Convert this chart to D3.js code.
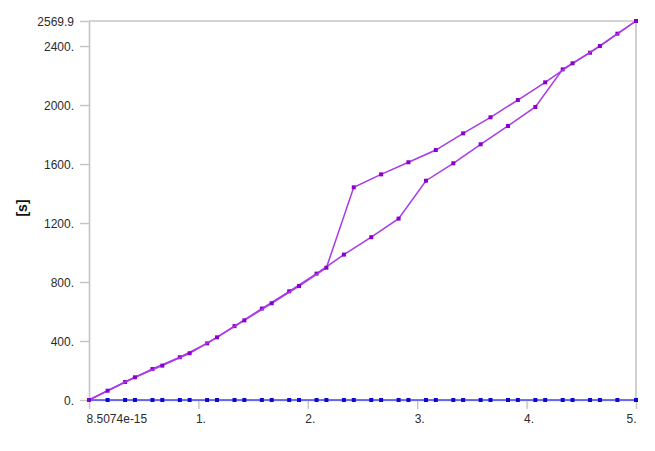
<!DOCTYPE html>
<html>
<head>
<meta charset="utf-8">
<script src="https://cdn.jsdelivr.net/npm/d3@7"></script>
<style>
  html, body { margin: 0; padding: 0; background: #fff; }
  svg { display: block; font-family: "Liberation Sans", Arial, sans-serif; }
</style>
</head>
<body>
<svg id="chart" width="655" height="451"></svg>
<script>
// ---- data ----
const seriesAX = [0, 0.17, 0.42, 0.67, 0.92, 1.17, 1.42, 1.67, 1.92, 2.17, 2.42, 2.67, 2.92, 3.17, 3.42, 3.67, 3.92, 4.17, 4.42, 4.67, 5.0];
const seriesAY = [0, 63, 154, 233, 317, 425, 540, 656, 773, 897, 1442, 1530, 1612, 1695, 1808, 1917, 2034, 2154, 2283, 2400, 2569.9];
const seriesBX = [0, 0.33, 0.58, 0.83, 1.08, 1.33, 1.58, 1.83, 2.08, 2.33, 2.58, 2.83, 3.08, 3.33, 3.58, 3.83, 4.08, 4.33, 4.58, 4.83, 5.0];
const seriesBY = [0, 122, 210, 290, 384, 501, 620, 737, 857, 986, 1104, 1230, 1487, 1605, 1734, 1858, 1987, 2242, 2355, 2484, 2569.9];
const blueX = [0, 0.17, 0.33, 0.42, 0.58, 0.67, 0.83, 0.92, 1.08, 1.17, 1.33, 1.42, 1.58, 1.67, 1.83, 1.92, 2.08, 2.17, 2.33, 2.42, 2.58, 2.67, 2.83, 2.92, 3.08, 3.17, 3.33, 3.42, 3.58, 3.67, 3.83, 3.92, 4.08, 4.17, 4.33, 4.42, 4.58, 4.67, 4.83, 5.0];
const blueY = [0, 0, 0, 0, 0, 0, 0, 0, 0, 0, 0, 0, 0, 0, 0, 0, 0, 0, 0, 0, 0, 0, 0, 0, 0, 0, 0, 0, 0, 0, 0, 0, 0, 0, 0, 0, 0, 0, 0, 0];
const xTickValues = [0, 1, 2, 3, 4, 5];
const xTickLabels = ["8.5074e-15", "1.", "2.", "3.", "4.", "5."];
const yTickValues = [0, 400, 800, 1200, 1600, 2000, 2400, 2569.9];
const yTickLabels = ["0.", "400.", "800.", "1200.", "1600.", "2000.", "2400.", "2569.9"];
const yAxisTitle = "[s]";

// ---- layout ----
const svg = d3.select("#chart");
const pLeft = 89, pRight = 636, pTop = 21, pBottom = 400;
const x = d3.scaleLinear().domain([0, 5]).range([pLeft, pRight]);
const y = d3.scaleLinear().domain([0, 2569.9]).range([pBottom, pTop]);

const axisColor = "#c4c4c4";
const textColor = "#2b2b2b";

// frame (top and right)
svg.append("line").attr("x1", pLeft).attr("x2", pRight).attr("y1", pTop).attr("y2", pTop)
  .attr("stroke", axisColor).attr("stroke-width", 1.6);
svg.append("line").attr("x1", pRight).attr("x2", pRight).attr("y1", pTop).attr("y2", pBottom)
  .attr("stroke", axisColor).attr("stroke-width", 1.6);

// y axis
const yAxis = d3.axisLeft(y).tickValues(yTickValues).tickSize(9).tickSizeOuter(0)
  .tickFormat((d, i) => yTickLabels[i]);
const gy = svg.append("g").attr("transform", `translate(${pLeft},0)`).call(yAxis);
gy.select(".domain").attr("stroke", axisColor).attr("stroke-width", 1.6);
gy.selectAll(".tick line").attr("stroke", axisColor).attr("stroke-width", 1.4);
gy.selectAll(".tick text").attr("fill", textColor).style("font-size", "12px")
  .attr("x", -15).attr("dy", "0.35em");

// x axis
const xAxis = d3.axisBottom(x).tickValues(xTickValues).tickSize(9).tickSizeOuter(0)
  .tickFormat((d, i) => xTickLabels[i]);
const gx = svg.append("g").attr("transform", `translate(0,${pBottom})`).call(xAxis);
gx.select(".domain").attr("stroke", axisColor).attr("stroke-width", 1.6);
gx.selectAll(".tick line").attr("stroke", axisColor).attr("stroke-width", 1.4);
gx.selectAll(".tick text").attr("fill", textColor).style("font-size", "12px")
  .attr("y", 14)
  .attr("text-anchor", (d, i) => i === 0 ? "start" : (i === xTickValues.length - 1 ? "end" : "middle"))
  .attr("x", (d, i) => i === 0 ? -3 : (i === xTickValues.length - 1 ? 0 : 2));

// y axis title
svg.append("text")
  .attr("transform", `translate(27,208) rotate(-90)`)
  .attr("text-anchor", "middle")
  .attr("fill", "#111")
  .style("font-size", "14px").style("font-weight", "bold")
  .text(yAxisTitle);

// series
const lineGen = d3.line().x(d => x(d[0])).y(d => y(d[1]));
function drawSeries(xs, ys, lineColor, markerColor) {
  const pts = xs.map((v, i) => [v, ys[i]]);
  svg.append("path").datum(pts).attr("d", lineGen)
    .attr("fill", "none").attr("stroke", lineColor).attr("stroke-width", 1.5);
  svg.append("g").selectAll("rect").data(pts).join("rect")
    .attr("x", d => x(d[0]) - 2).attr("y", d => y(d[1]) - 2)
    .attr("width", 4).attr("height", 4).attr("fill", markerColor);
}
drawSeries(blueX, blueY, "#4848f0", "#0a0ad2");
drawSeries(seriesBX, seriesBY, "#a83ae8", "#8a00cc");
drawSeries(seriesAX, seriesAY, "#a83ae8", "#8a00cc");
</script>
</body>
</html>
